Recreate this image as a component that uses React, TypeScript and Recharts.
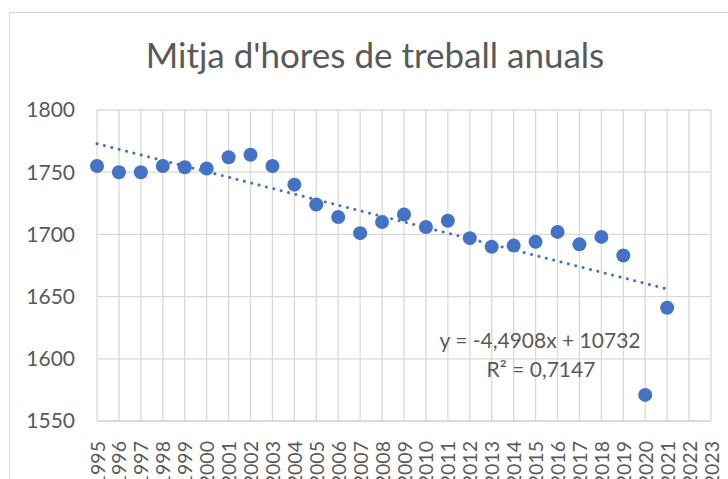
import { ComposedChart, Line, XAxis, YAxis, CartesianGrid } from "recharts";

const years = [
  1995, 1996, 1997, 1998, 1999, 2000, 2001, 2002, 2003, 2004, 2005, 2006, 2007, 2008,
  2009, 2010, 2011, 2012, 2013, 2014, 2015, 2016, 2017, 2018, 2019, 2020, 2021,
];
const hours = [
  1755, 1750, 1750, 1755, 1754, 1753, 1762, 1764, 1755, 1740, 1724, 1714, 1701, 1710,
  1716, 1706, 1711, 1697, 1690, 1691, 1694, 1702, 1692, 1698, 1683, 1571, 1641,
];
const xTicks = [
  1995, 1996, 1997, 1998, 1999, 2000, 2001, 2002, 2003, 2004, 2005, 2006, 2007, 2008,
  2009, 2010, 2011, 2012, 2013, 2014, 2015, 2016, 2017, 2018, 2019, 2020, 2021, 2022, 2023,
];
const yTicks = [1550, 1600, 1650, 1700, 1750, 1800];

// linear trendline as printed on the chart
const TREND_SLOPE = -4.4908;
const TREND_INTERCEPT = 10732;

const data = years.map((year, i) => ({
  year,
  hours: hours[i],
  trend: TREND_SLOPE * year + TREND_INTERCEPT,
}));

const FONT = "Lato, 'Liberation Sans', sans-serif";
const TEXT = "#595959";
const BLUE = "#4472C4";

const XTick = (props: any) => {
  const { x, y, payload } = props;
  const ty = y + 12;
  return (
    <text
      x={x}
      y={ty}
      transform={`rotate(-90, ${x}, ${ty})`}
      textAnchor="end"
      dominantBaseline="central"
      fontSize={19.5}
      fontFamily={FONT}
      fill={TEXT}
    >
      {payload.value}
    </text>
  );
};

const Dot = (props: any) => {
  const { cx, cy } = props;
  if (cx == null || cy == null) return null;
  return <circle cx={cx} cy={cy} r={7} fill={BLUE} />;
};

export default function App() {
  return (
    <div
      style={{
        position: "absolute",
        left: 0,
        top: 0,
        width: 728,
        height: 479,
        overflow: "hidden",
        background: "#fff",
      }}
    >
      <div
        style={{
          position: "absolute",
          left: 9,
          top: 12,
          width: 800,
          height: 600,
          border: "1px solid #d9d9d9",
        }}
      />
      <div style={{ position: "absolute", left: 0, top: 0 }}>
        <ComposedChart
          width={728}
          height={479}
          data={data}
          margin={{ top: 110, right: 17, bottom: 0, left: 0 }}
        >
          <CartesianGrid stroke="#d9d9d9" strokeWidth={1.3} />
          <XAxis
            dataKey="year"
            type="number"
            domain={[1995, 2023]}
            ticks={xTicks}
            interval={0}
            height={58}
            axisLine={{ stroke: "#d9d9d9", strokeWidth: 1.3 }}
            tickLine={false}
            tick={<XTick />}
          />
          <YAxis
            domain={[1550, 1800]}
            ticks={yTicks}
            width={97}
            axisLine={false}
            tickLine={false}
            tickSize={0}
            tickMargin={22}
            tick={{ fontSize: 21, fontFamily: FONT, fill: TEXT }}
          />
          <Line
            dataKey="trend"
            stroke={BLUE}
            strokeWidth={3}
            strokeDasharray="0.1 7.5"
            strokeLinecap="round"
            dot={false}
            activeDot={false}
            isAnimationActive={false}
          />
          <Line
            dataKey="hours"
            stroke="none"
            dot={<Dot />}
            activeDot={false}
            isAnimationActive={false}
          />
        </ComposedChart>
      </div>
      <svg
        width={728}
        height={479}
        style={{ position: "absolute", left: 0, top: 0, pointerEvents: "none" }}
      >
        <text x={375} y={68} textAnchor="middle" fontSize={35} fontFamily={FONT} fill={TEXT}>
          Mitja d'hores de treball anuals
        </text>
        <text x={540} y={348} textAnchor="middle" fontSize={21} fontFamily={FONT} fill={TEXT}>
          y = -4,4908x + 10732
        </text>
        <text x={541} y={377} textAnchor="middle" fontSize={21} fontFamily={FONT} fill={TEXT}>
          R² = 0,7147
        </text>
      </svg>
    </div>
  );
}
